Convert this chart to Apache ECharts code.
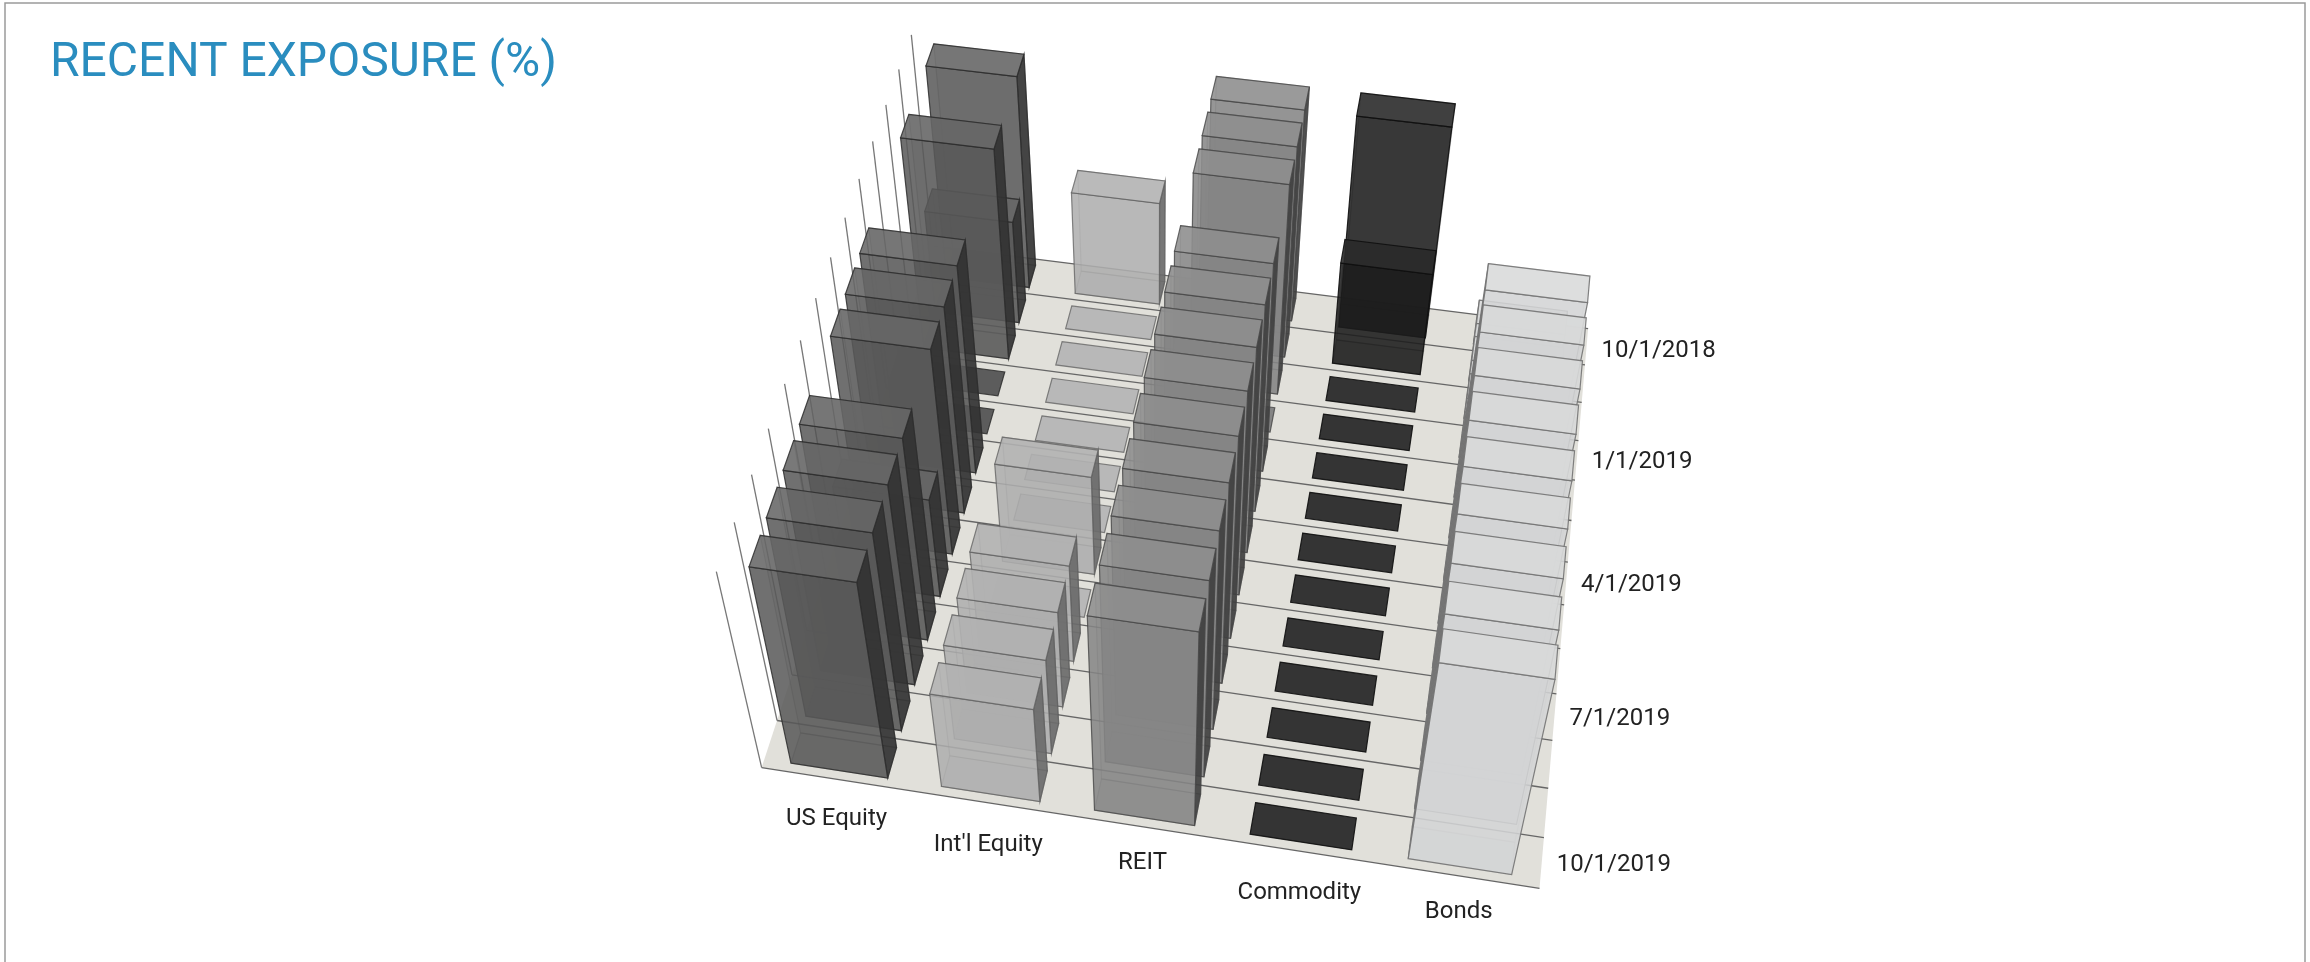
<!DOCTYPE html>
<html><head><meta charset="utf-8">
<style>html,body{margin:0;padding:0;background:#fff}#c{width:2310px;height:962px}</style>
<script src="https://cdn.jsdelivr.net/npm/echarts@6/dist/echarts.min.js"></script>
</head><body><div id="c"></div>
<script>
const categories = ['US Equity', "Int'l Equity", 'REIT', 'Commodity', 'Bonds'];
const dates = ['10/1/2018','11/1/2018','12/1/2018','1/1/2019','2/1/2019','3/1/2019','4/1/2019','5/1/2019','6/1/2019','7/1/2019','8/1/2019','9/1/2019','10/1/2019'];
const labelledDates = ['10/1/2018','1/1/2019','4/1/2019','7/1/2019','10/1/2019'];
const usEquity  = [28,14,28,0,0,28,28,28,14,28,28,28,28];
const intlEquity= [14,0,0,0,0,0,0,14,0,14,14,14,14];
const reit      = [28,28,28,0,28,28,28,28,28,28,28,28,28];
const commodity = [28,14,0,0,0,0,0,0,0,0,0,0,0];
const bonds     = [3,3,3,3,28,28,28,28,28,28,28,28,28.5];
const seriesValues = [usEquity,intlEquity,reit,commodity,bonds];
const barColors = ['#585858','#aeaeae','#858585','#1c1c1c','#d3d4d5'];
const topColors = ['#666666','#b2b2b2','#8e8e8e','#2a2a2a','#d8d9da'];
const flatColors = ['#5c5c5c','#b8b8b8','#858585','#343434','#d3d4d5'];
const sideColors = ['rgba(50,50,50,0.9)','rgba(105,105,105,0.9)','rgba(62,62,62,0.9)','rgba(20,20,20,0.9)','rgba(120,120,120,0.92)'];
const edgeColors = ['rgba(45,45,45,0.85)','rgba(95,95,95,0.75)','rgba(70,70,70,0.8)','rgba(15,15,15,0.9)','rgba(115,115,115,0.9)'];
const zMax = 28;

// camera: floor corners and vertical vanishing point, in page pixels
const S = 2310/1568;
const cam = {FL:[517*S,521*S],FR:[1045*S,603*S],BR:[1078*S,223*S],BL:[633*S,167*S],VP:[785*S,1680*S],wallTop:[487*S,388*S]};
function buildCamera(){
  const [x0,y0]=cam.BL,[x1,y1]=cam.BR,[x2,y2]=cam.FR,[x3,y3]=cam.FL;
  const dx1=x1-x2,dx2=x3-x2,sx=x0-x1+x2-x3,dy1=y1-y2,dy2=y3-y2,sy=y0-y1+y2-y3;
  const d=dx1*dy2-dx2*dy1;
  const g=(sx*dy2-dx2*sy)/d,h=(dx1*sy-sx*dy1)/d;
  const a=x1-x0+g*x1,b=x3-x0+h*x3,c=x0,e=y1-y0+g*y1,f=y3-y0+h*y3,i=y0;
  const hy=f+i,hw=h+1;
  const lam=(hy-cam.wallTop[1]*hw)/(cam.wallTop[1]-cam.VP[1]);
  return {a,b,c,e,f,i,g,h,lam};
}
const C=buildCamera();
function project(u,v,z){
  const w=C.g*u+C.h*v+1+C.lam*z;
  return [(C.a*u+C.b*v+C.c+C.lam*z*cam.VP[0])/w,(C.e*u+C.f*v+C.i+C.lam*z*cam.VP[1])/w];
}

const barData=[];
dates.forEach((d,r)=>{
  const order=categories.map((_,c)=>c).sort((p,q)=>Math.abs(q-1.6)-Math.abs(p-1.6));
  order.forEach(c=>barData.push([c,r,seriesValues[c][r]]));
});
const hex=(col,a)=>{const n=parseInt(col.slice(1),16);return `rgba(${n>>16},${(n>>8)&255},${n&255},${a})`;};

function renderBar(params,api){
  const cat=api.value(0),row=api.value(1),val=api.value(2),cs=params.coordSys;
  const ctr=api.coord([cat,row]),size=api.size([1,1]);
  const fx=0.645,fy=0.64;
  const u0=(ctr[0]-cs.x-size[0]*fx/2)/cs.width,u1=(ctr[0]-cs.x+size[0]*fx/2)/cs.width;
  const v0=(ctr[1]-cs.y-size[1]*fy/2)/cs.height,v1=(ctr[1]-cs.y+size[1]*fy/2)/cs.height;
  const z=echarts.number.linearMap(val,[0,zMax],[0,1]);
  const col=barColors[cat],edge=edgeColors[cat];
  const P=project;
  const poly=(pts,fill,st)=>({type:'polygon',shape:{points:pts},style:{fill,stroke:st===undefined?edge:st,lineWidth:1.2}});
  const kids=[];
  if(val>0){
    const faint=cat===4?'rgba(130,130,130,0.2)':'rgba(40,40,40,0.3)';
    kids.push(poly([P(u0,v0,0),P(u1,v0,0),P(u1,v1,0),P(u0,v1,0)],hex(col,0.22),faint));
    kids.push(poly([P(u0,v0,0),P(u1,v0,0),P(u1,v0,z),P(u0,v0,z)],hex(col,0.14),faint));
    if(cat<3) kids.push(poly([P(u1,v0,0),P(u1,v1,0),P(u1,v1,z),P(u1,v0,z)],sideColors[cat]));
    else if(cat===4) kids.push(poly([P(u0,v0,0),P(u0,v1,0),P(u0,v1,z),P(u0,v0,z)],sideColors[cat]));
    kids.push(poly([P(u0,v1,0),P(u1,v1,0),P(u1,v1,z),P(u0,v1,z)],hex(col,0.86)));
    kids.push(poly([P(u0,v0,z),P(u1,v0,z),P(u1,v1,z),P(u0,v1,z)],hex(topColors[cat],0.88)));
  } else {
    kids.push(poly([P(u0,v0,0),P(u1,v0,0),P(u1,v1,0),P(u0,v1,0)],flatColors[cat]));
  }
  return {type:'group',children:kids};
}

function renderFloor(){
  const lines=[];
  dates.concat(['']).forEach((_,k)=>{
    const v=k/dates.length;
    const a=project(0,v,0),b=project(1,v,0);
    lines.push({type:'line',shape:{x1:a[0],y1:a[1],x2:b[0],y2:b[1]},style:{stroke:'#666',lineWidth:1.3}});
    const t=project(0,v,1);
    lines.push({type:'line',shape:{x1:a[0],y1:a[1],x2:t[0],y2:t[1]},style:{stroke:'#777',lineWidth:1.3}});
  });
  const floor={type:'polygon',shape:{points:[project(0,0,0),project(1,0,0),project(1,1,0),project(0,1,0)]},style:{fill:'#e1e0da'}};
  return {type:'group',children:[floor].concat(lines)};
}
const catNudge=[4,6,0,6,0];
function renderLabels(){
  const kids=[];
  categories.forEach((c,i)=>{
    const p=project((i+0.5)/categories.length,1,0);
    kids.push({type:'text',x:p[0],y:p[1]+36+catNudge[i],style:{text:c,fontFamily:'Roboto',fontSize:24,fill:'#222',align:'center',verticalAlign:'middle'}});
  });
  labelledDates.forEach(d=>{
    const r=dates.indexOf(d);
    const p=project(1,(r+0.5)/dates.length,0);
    kids.push({type:'text',x:p[0]+15,y:p[1]+2+(r===0?2:0),style:{text:d,fontFamily:'Roboto',fontSize:24,fill:'#222',align:'left',verticalAlign:'middle'}});
  });
  return {type:'group',children:kids};
}
const chart=echarts.init(document.getElementById('c'),null,{renderer:'canvas'});
chart.setOption({
  animation:false,
  backgroundColor:'#fff',
  title:{text:'RECENT EXPOSURE (%)',left:45,top:35,textStyle:{fontFamily:'Roboto',fontWeight:400,fontSize:48,color:'#2a8dbf'}},
  graphic:[{type:'rect',shape:{x:5,y:3,width:2300,height:990},style:{fill:'none',stroke:'#9a9a9a',lineWidth:1.5},silent:true}],
  grid:{left:0,right:0,top:0,bottom:0},
  xAxis:{type:'category',data:categories,show:false},
  yAxis:{type:'category',data:dates,inverse:true,show:false},
  tooltip:{show:false},
  series:[
    {type:'custom',name:'floor',coordinateSystem:'cartesian2d',z:1,silent:true,data:[[0,0]],renderItem:renderFloor},
    {type:'custom',name:'exposure',coordinateSystem:'cartesian2d',z:3,silent:true,data:barData,encode:{x:0,y:1},renderItem:renderBar},
    {type:'custom',name:'labels',coordinateSystem:'cartesian2d',z:4,silent:true,data:[[0,0]],renderItem:renderLabels}
  ]
});
</script></body></html>
